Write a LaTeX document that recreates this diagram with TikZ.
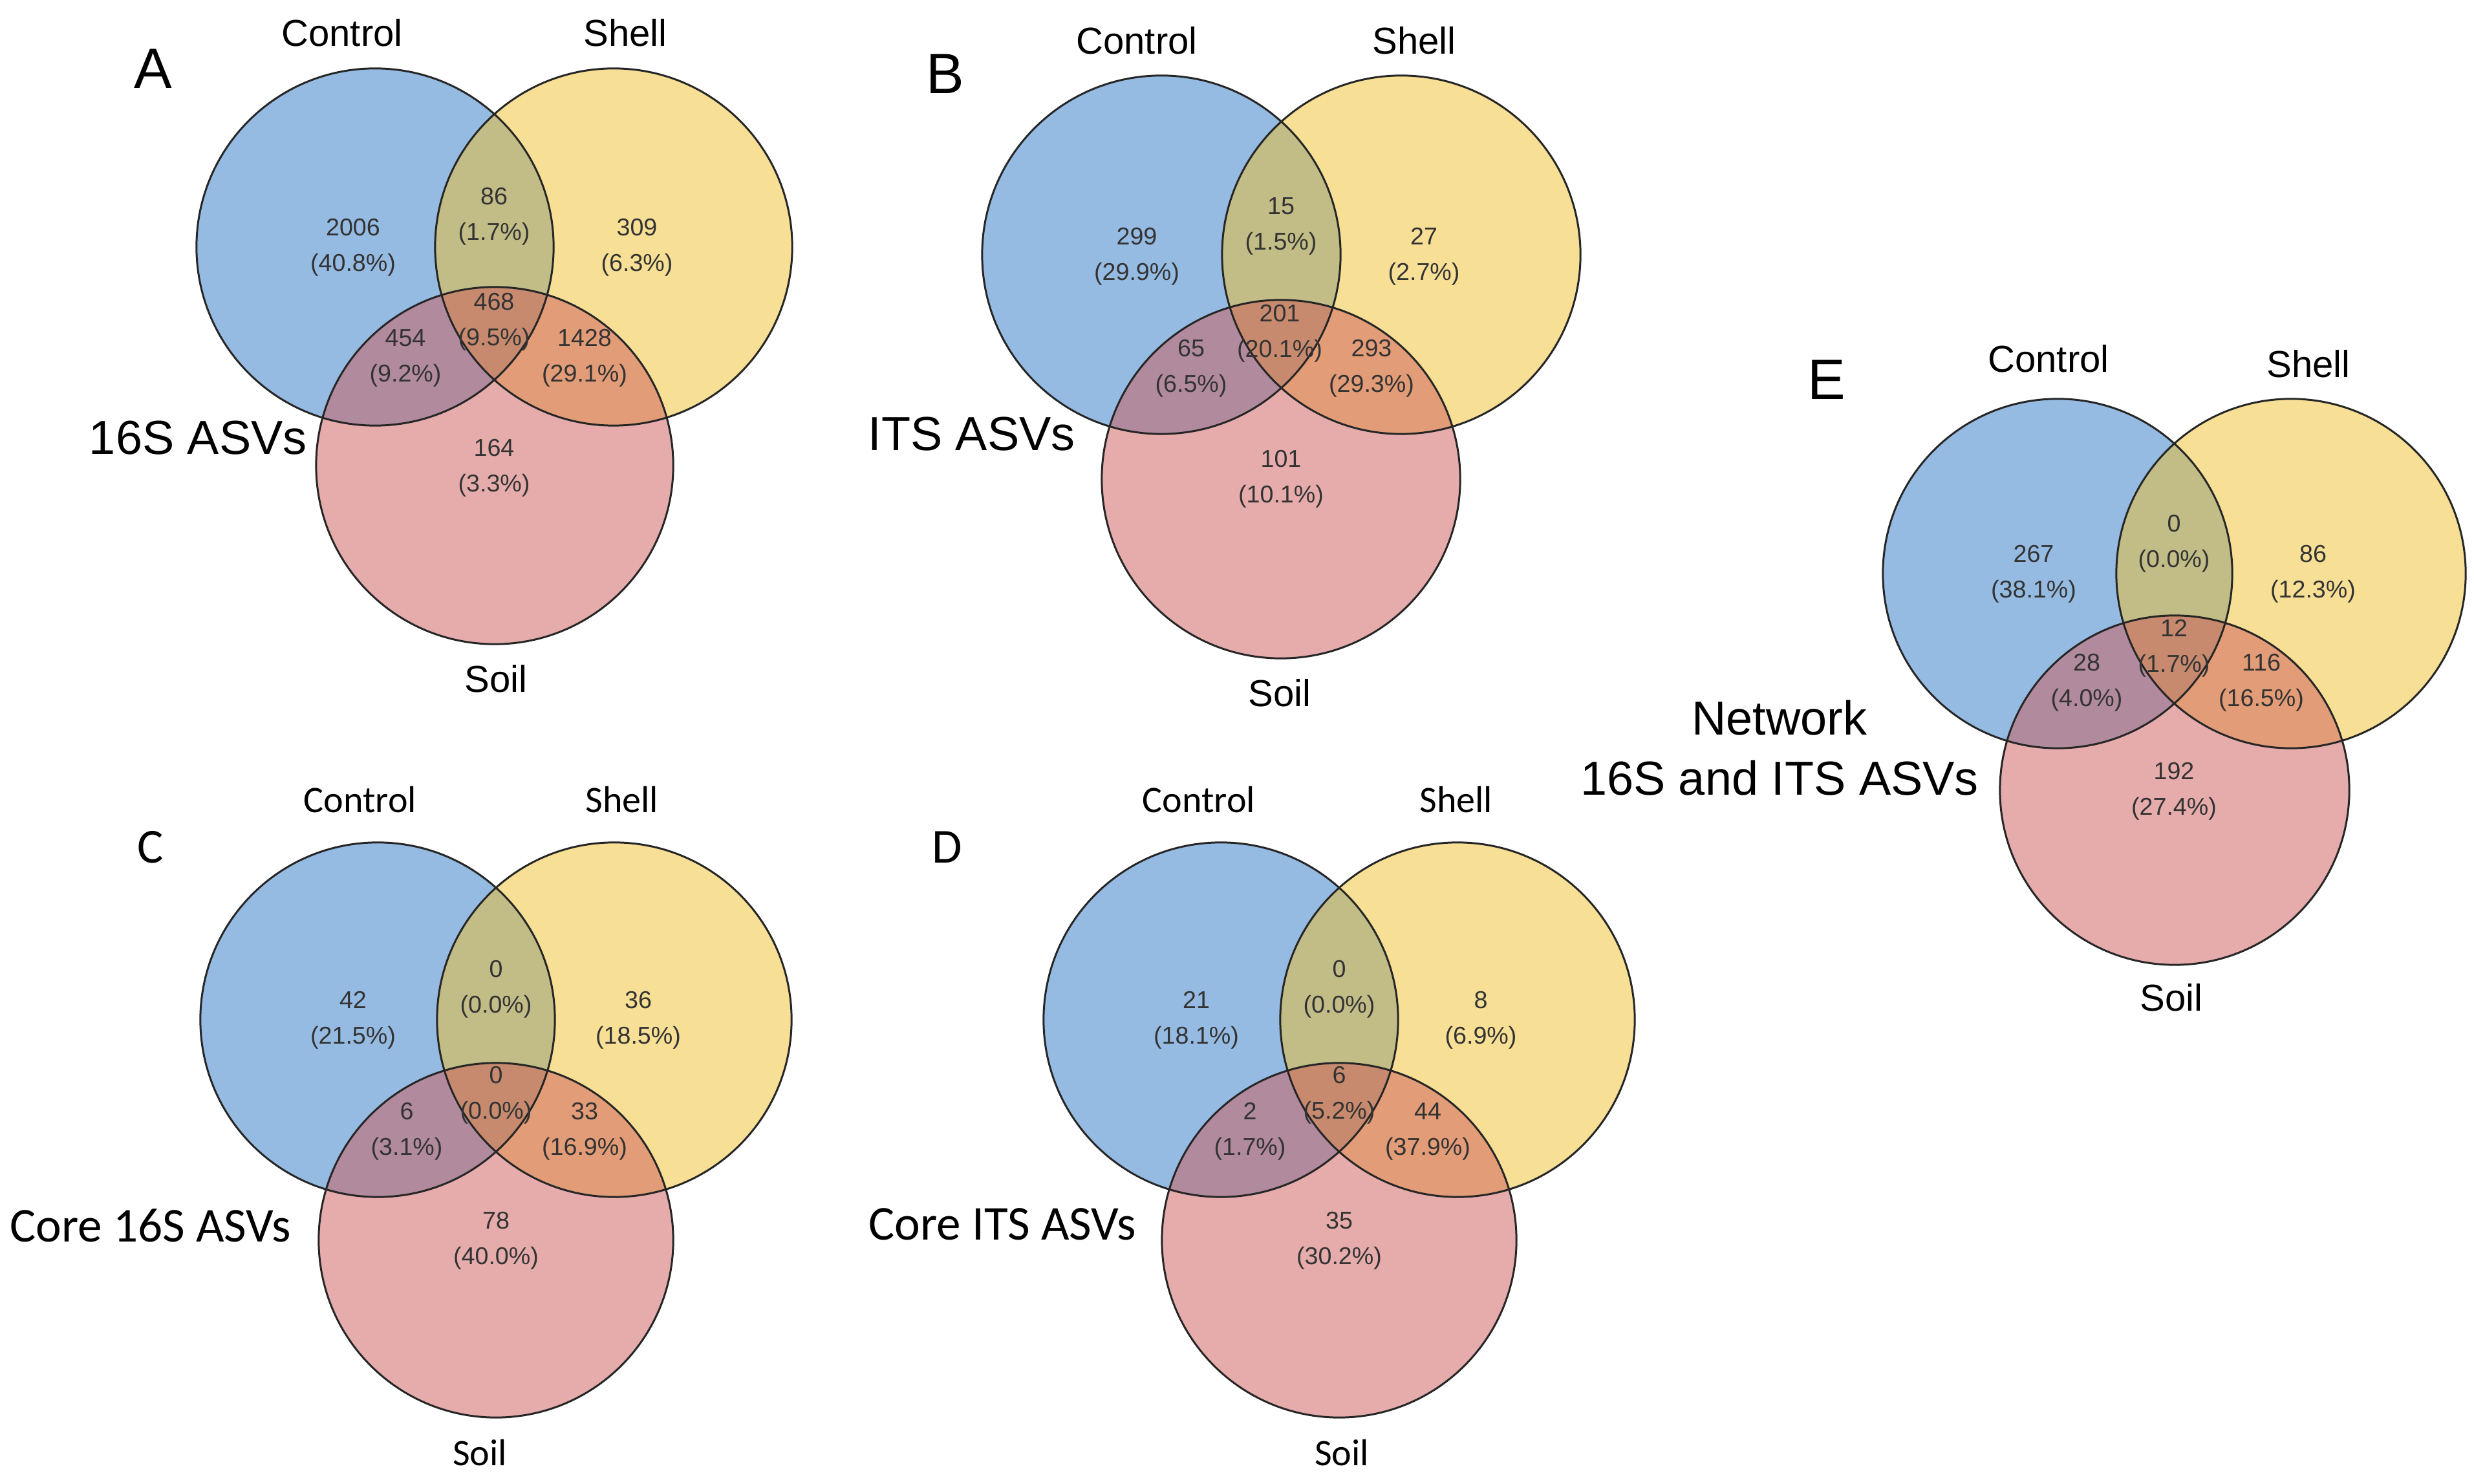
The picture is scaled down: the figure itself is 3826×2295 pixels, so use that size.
\documentclass[tikz,border=0pt]{standalone}
\usepackage{fontspec}
\setmainfont{Liberation Sans}
\newfontfamily\calibri{Carlito}

\definecolor{ctrlblue}{RGB}{45,119,197}
\definecolor{shellyellow}{RGB}{239,191,45}
\definecolor{soilpink}{RGB}{205,89,89}

\tikzset{
    ctrlfill/.style = {fill = ctrlblue, fill opacity = 0.5},
    shellfill/.style = {fill = shellyellow, fill opacity = 0.5},
    soilfill/.style = {fill = soilpink, fill opacity = 0.5},
    rim/.style = {draw = black!85, line width = 0.85pt},
    numlbl/.style = {align = center, text = black!80,
                     font = \fontsize{10.7}{15.6}\selectfont},
    setname/.style = {font = \fontsize{16.5}{20}\selectfont},
    setnamecal/.style = {font = \calibri\fontsize{16.5}{20}\selectfont},
    panelletter/.style = {font = \fontsize{25}{30}\selectfont},
    panelletercal/.style = {font = \calibri\fontsize{21.5}{26}\selectfont},
    venntitle/.style = {font = \fontsize{21}{26.5}\selectfont, align = center},
    venntitlecal/.style = {font = \calibri\fontsize{21.4}{26}\selectfont}
}

\begin{document}
\begin{tikzpicture}[x = 0.01cm, y = -0.01cm]
            \useasboundingbox (0, 0) rectangle (3826, 2295);

            % A: 16S ASVs
            \fill [ctrlfill] (580, 382) circle (2.76cm);
            \fill [shellfill] (949, 382) circle (2.76cm);
            \fill [soilfill] (765, 720) circle (2.76cm);
            \draw [rim] (580, 382) circle (2.76cm) (949, 382) circle (2.76cm)
                  (765, 720) circle (2.76cm);
            \node [panelletter] (A-letter) at (237, 106) {A};
            \node [setname] (A-ctrl) at (529, 51) {Control};
            \node [setname] (A-shell) at (967, 51) {Shell};
            \node [setname] (A-soil) at (767, 1050) {Soil};
            \node [venntitle, anchor = east] (A-title) at (487, 677) {16S ASVs};
            \node [numlbl] (A-c) at (546, 383) {2006\\(40.8\%)};
            \node [numlbl] (A-cs) at (764, 335) {86\\(1.7\%)};
            \node [numlbl] (A-s) at (985, 383) {309\\(6.3\%)};
            \node [numlbl] (A-cso) at (764, 498) {468\\(9.5\%)};
            \node [numlbl] (A-co) at (627, 554) {454\\(9.2\%)};
            \node [numlbl] (A-so) at (904, 554) {1428\\(29.1\%)};
            \node [numlbl] (A-o) at (764, 724) {164\\(3.3\%)};

            % B: ITS ASVs
            \fill [ctrlfill] (1796, 394) circle (2.77cm);
            \fill [shellfill] (2167, 394) circle (2.77cm);
            \fill [soilfill] (1981, 741) circle (2.77cm);
            \draw [rim] (1796, 394) circle (2.77cm) (2167, 394) circle (2.77cm)
                  (1981, 741) circle (2.77cm);
            \node [panelletter] (B-letter) at (1462, 114) {B};
            \node [setname] (B-ctrl) at (1758, 63) {Control};
            \node [setname] (B-shell) at (2187, 63) {Shell};
            \node [setname] (B-soil) at (1979, 1072) {Soil};
            \node [venntitle, anchor = east] (B-title) at (1675, 671) {ITS ASVs};
            \node [numlbl] (B-c) at (1758, 397) {299\\(29.9\%)};
            \node [numlbl] (B-cs) at (1981, 350) {15\\(1.5\%)};
            \node [numlbl] (B-s) at (2202, 397) {27\\(2.7\%)};
            \node [numlbl] (B-cso) at (1979, 516) {201\\(20.1\%)};
            \node [numlbl] (B-co) at (1842, 570) {65\\(6.5\%)};
            \node [numlbl] (B-so) at (2121, 570) {293\\(29.3\%)};
            \node [numlbl] (B-o) at (1981, 741) {101\\(10.1\%)};

            % C: core 16S ASVs
            \fill [ctrlfill] (584, 1577) circle (2.74cm);
            \fill [shellfill] (950, 1577) circle (2.74cm);
            \fill [soilfill] (767, 1918) circle (2.74cm);
            \draw [rim] (584, 1577) circle (2.74cm) (950, 1577) circle (2.74cm)
                  (767, 1918) circle (2.74cm);
            \node [panelletercal] (C-letter) at (233, 1310) {C};
            \node [setnamecal] (C-ctrl) at (557, 1237) {Control};
            \node [setnamecal] (C-shell) at (962, 1237) {Shell};
            \node [setnamecal] (C-soil) at (742, 2247) {Soil};
            \node [venntitlecal, anchor = east] (C-title) at (462, 1895)
                  {Core 16S ASVs};
            \node [numlbl] (C-c) at (546, 1578) {42\\(21.5\%)};
            \node [numlbl] (C-cs) at (767, 1530) {0\\(0.0\%)};
            \node [numlbl] (C-s) at (987, 1578) {36\\(18.5\%)};
            \node [numlbl] (C-cso) at (767, 1694) {0\\(0.0\%)};
            \node [numlbl] (C-co) at (629, 1750) {6\\(3.1\%)};
            \node [numlbl] (C-so) at (904, 1750) {33\\(16.9\%)};
            \node [numlbl] (C-o) at (767, 1919) {78\\(40.0\%)};

            % D: core ITS ASVs
            \fill [ctrlfill] (1888, 1577) circle (2.74cm);
            \fill [shellfill] (2254, 1577) circle (2.74cm);
            \fill [soilfill] (2071, 1918) circle (2.74cm);
            \draw [rim] (1888, 1577) circle (2.74cm) (2254, 1577) circle (2.74cm)
                  (2071, 1918) circle (2.74cm);
            \node [panelletercal] (D-letter) at (1465, 1310) {D};
            \node [setnamecal] (D-ctrl) at (1854, 1237) {Control};
            \node [setnamecal] (D-shell) at (2252, 1237) {Shell};
            \node [setnamecal] (D-soil) at (2075, 2247) {Soil};
            \node [venntitlecal, anchor = east] (D-title) at (1769, 1893)
                  {Core ITS ASVs};
            \node [numlbl] (D-c) at (1850, 1578) {21\\(18.1\%)};
            \node [numlbl] (D-cs) at (2071, 1530) {0\\(0.0\%)};
            \node [numlbl] (D-s) at (2290, 1578) {8\\(6.9\%)};
            \node [numlbl] (D-cso) at (2071, 1694) {6\\(5.2\%)};
            \node [numlbl] (D-co) at (1933, 1750) {2\\(1.7\%)};
            \node [numlbl] (D-so) at (2208, 1750) {44\\(37.9\%)};
            \node [numlbl] (D-o) at (2071, 1919) {35\\(30.2\%)};

            % E: network 16S and ITS ASVs
            \fill [ctrlfill] (3182, 887) circle (2.70cm);
            \fill [shellfill] (3543, 887) circle (2.70cm);
            \fill [soilfill] (3363, 1222) circle (2.70cm);
            \draw [rim] (3182, 887) circle (2.70cm) (3543, 887) circle (2.70cm)
                  (3363, 1222) circle (2.70cm);
            \node [panelletter] (E-letter) at (2825, 587) {E};
            \node [setname] (E-ctrl) at (3168, 555) {Control};
            \node [setname] (E-shell) at (3570, 563) {Shell};
            \node [setname] (E-soil) at (3358, 1543) {Soil};
            \node [venntitle] (E-title) at (2752, 1157)
                  {Network\\16S and ITS ASVs};
            \node [numlbl] (E-c) at (3145, 888) {267\\(38.1\%)};
            \node [numlbl] (E-cs) at (3362, 841) {0\\(0.0\%)};
            \node [numlbl] (E-s) at (3577, 888) {86\\(12.3\%)};
            \node [numlbl] (E-cso) at (3362, 1003) {12\\(1.7\%)};
            \node [numlbl] (E-co) at (3227, 1056) {28\\(4.0\%)};
            \node [numlbl] (E-so) at (3497, 1056) {116\\(16.5\%)};
            \node [numlbl] (E-o) at (3362, 1224) {192\\(27.4\%)};
\end{tikzpicture}
\end{document}
